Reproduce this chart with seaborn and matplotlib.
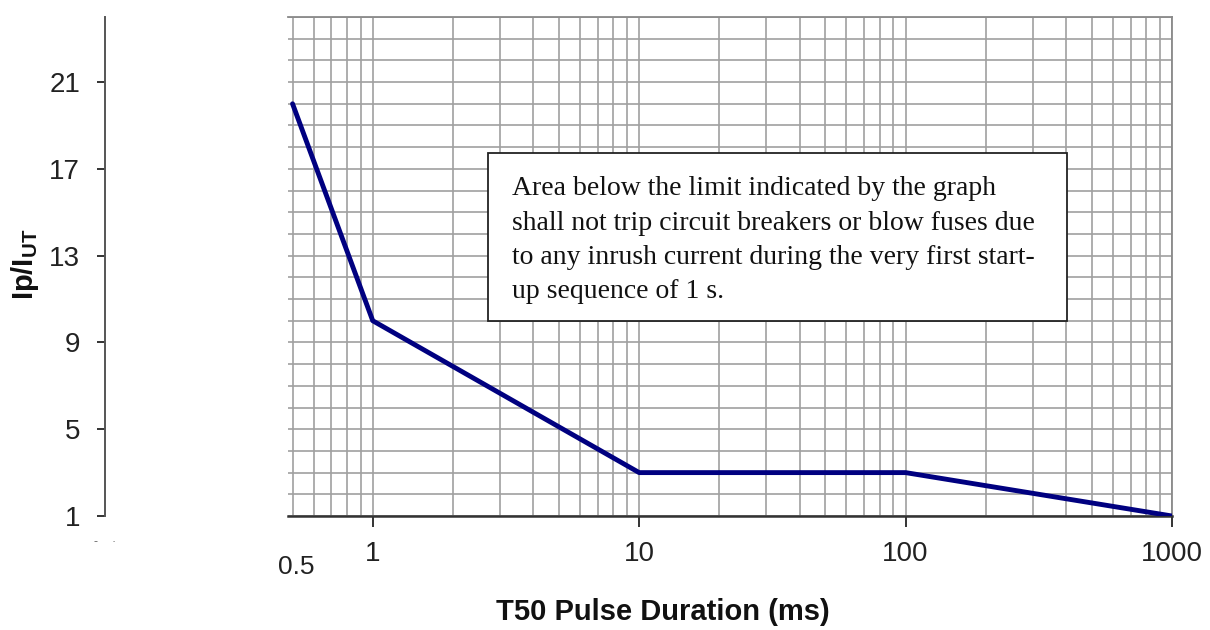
import matplotlib
matplotlib.use("Agg")
import matplotlib.pyplot as plt
from matplotlib.ticker import FixedLocator, LogLocator, NullFormatter, FixedFormatter
from matplotlib.patches import Rectangle
import seaborn as sns
import pandas as pd

# ---- data ----
pulse_ms = [0.5, 1, 10, 100, 1000]
ip_ratio = [20, 10, 3, 3, 1]
x_tick_values = [1, 10, 100, 1000]
x_tick_labels = ["1", "10", "100", "1000"]
y_tick_values = [1, 5, 9, 13, 17, 21]
y_grid_values = list(range(1, 25))
note_lines = [
    "Area below the limit indicated by the graph",
    "shall not trip circuit breakers or blow fuses due",
    "to any inrush current during the very first start-",
    "up sequence of 1 s.",
]

sns.set_style("white")
plt.rcParams["font.family"] = ["Liberation Sans", "DejaVu Sans"]
plt.rcParams["mathtext.fontset"] = "custom"
plt.rcParams["mathtext.bf"] = "Liberation Sans:bold"
plt.rcParams["mathtext.rm"] = "Liberation Sans"

W, H = 1210, 630
fx = lambda px: px / W
fy = lambda py: 1 - py / H

fig = plt.figure(figsize=(W / 100, H / 100), dpi=100)
ax = fig.add_axes([fx(288), fy(516), (1172 - 288) / W, (516 - 17) / H])

df = pd.DataFrame({"pulse": pulse_ms, "ratio": ip_ratio})
sns.lineplot(data=df, x="pulse", y="ratio", ax=ax, color="#000080",
             linewidth=3.5, zorder=4, sort=False)

ax.set_xscale("log")
ax.set_xlim(0.4807, 1000)
ax.set_ylim(1, 24)

ax.xaxis.set_major_locator(FixedLocator(x_tick_values))
ax.xaxis.set_major_formatter(FixedFormatter(x_tick_labels))
ax.xaxis.set_minor_locator(LogLocator(base=10, subs=range(2, 10)))
ax.xaxis.set_minor_formatter(NullFormatter())
ax.yaxis.set_major_locator(FixedLocator(y_tick_values))
ax.yaxis.set_minor_locator(FixedLocator(y_grid_values))
ax.yaxis.set_minor_formatter(NullFormatter())

grid_kw = dict(color="#a0a0a0", linewidth=1.2)
ax.grid(True, which="both", axis="both", **grid_kw)
ax.set_axisbelow(True)

ax.tick_params(bottom=True, left=True, top=False, right=False)
ax.tick_params(axis="x", which="major", direction="out", length=8, width=1.4,
               color="#333333", labelsize=20, pad=10, labelcolor="#222222")
ax.tick_params(axis="y", which="major", direction="out", length=6, width=1.4,
               color="#333333", labelsize=20, pad=12, labelcolor="#222222")
ax.tick_params(which="minor", length=0)

ax.set_xlabel("")
ax.set_ylabel("")

# spines
ax.spines["left"].set_position(("outward", 183 * 72 / 100))
ax.spines["left"].set_color("#555555")
ax.spines["left"].set_linewidth(1.4)
ax.spines["bottom"].set_color("#333333")
ax.spines["bottom"].set_linewidth(1.8)
ax.spines["top"].set_color("#8a8a8a")
ax.spines["top"].set_linewidth(1.3)
ax.spines["right"].set_color("#8a8a8a")
ax.spines["right"].set_linewidth(1.3)
for s in ax.spines.values():
    s.set_visible(True)

# extra "0.5" label
fig.text(fx(296), fy(567.5), "0.5", ha="center", va="center", fontsize=19,
         color="#222222")

# axis titles
fig.text(fx(663), fy(612), "T50 Pulse Duration (ms)", ha="center", va="center",
         fontsize=21, fontweight="bold", color="#111111")
fig.text(fx(25), fy(264), r"$\mathbf{Ip/I}_{\mathbf{UT}}$", ha="center",
         va="center", rotation=90, fontsize=21, color="#111111")

# small artifact marks below the y axis
fig.text(fx(105), fy(542), "-    \u00b7", ha="center", va="center", fontsize=9,
         color="#666666")

# note box
box = Rectangle((fx(488), fy(321)), fx(1067) - fx(488), (321 - 153) / H,
                transform=fig.transFigure, facecolor="white",
                edgecolor="#222222", linewidth=1.3, zorder=5, clip_on=False)
ax.add_patch(box)
baselines = [195, 229.5, 264, 298.5]
for line, b in zip(note_lines, baselines):
    ax.text(fx(512), fy(b), line, transform=fig.transFigure, ha="left",
            va="baseline", fontsize=20, family="Liberation Serif",
            color="#111111", zorder=6)

fig.savefig("out.png", dpi=100)
